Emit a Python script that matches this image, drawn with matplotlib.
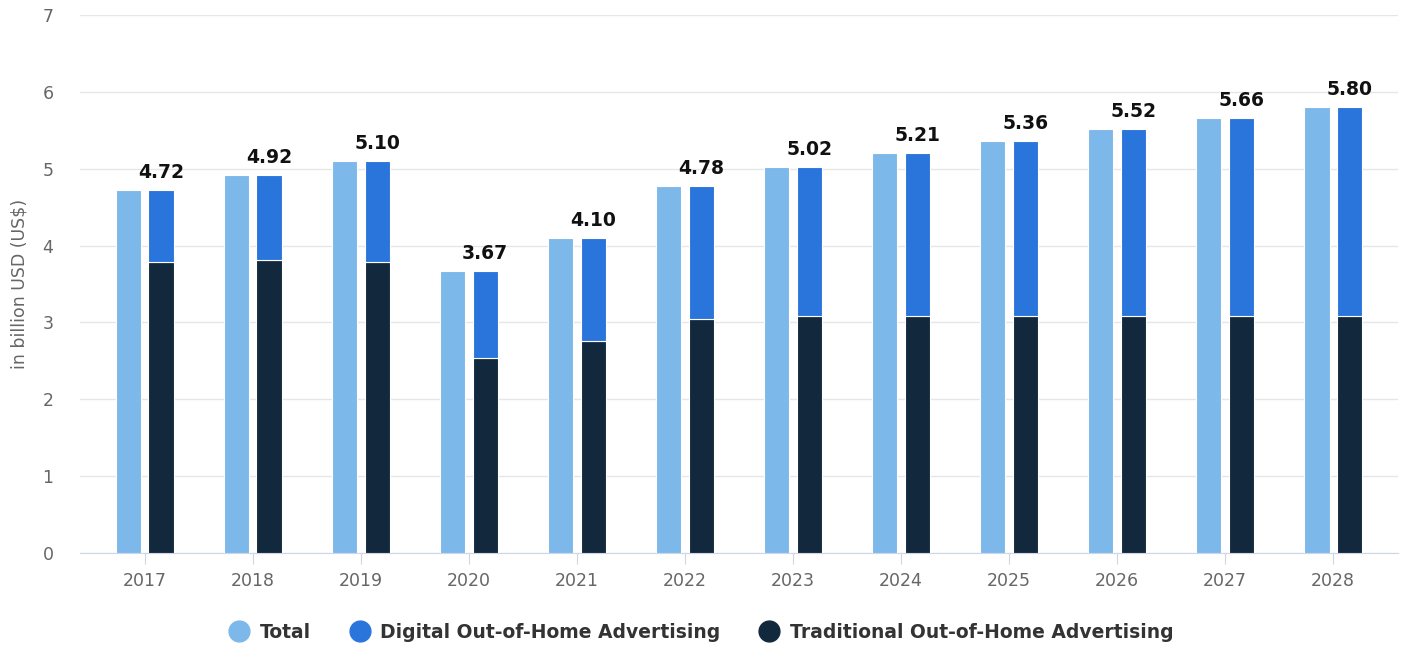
import matplotlib.pyplot as plt
from matplotlib.lines import Line2D
import numpy as np

years = ["2017", "2018", "2019", "2020", "2021", "2022", "2023", "2024", "2025", "2026", "2027", "2028"]
total = [4.72, 4.92, 5.10, 3.67, 4.10, 4.78, 5.02, 5.21, 5.36, 5.52, 5.66, 5.80]
traditional = [3.79, 3.81, 3.79, 2.54, 2.76, 3.04, 3.08, 3.08, 3.08, 3.08, 3.08, 3.08]
digital = [t - d for t, d in zip(total, traditional)]

C_TOTAL = "#7db8ea"
C_DIGITAL = "#2a75dc"
C_TRAD = "#12283c"

fig = plt.figure(figsize=(14.1, 6.49), dpi=100)
ax = fig.add_axes([0.0567, 0.148, 0.9348, 0.829])

x = np.arange(len(years))
w = 0.232
off = 0.15

ax.bar(x - off, total, w, color=C_TOTAL, edgecolor="white", linewidth=0.8, zorder=3)
ax.bar(x + off, traditional, w, color=C_TRAD, edgecolor="white", linewidth=0.8, zorder=3)
ax.bar(x + off, digital, w, bottom=traditional, color=C_DIGITAL, edgecolor="white", linewidth=0.8, zorder=3)

for xi, t in zip(x, total):
    ax.text(xi + off, t + 0.1, f"{t:.2f}", ha="center", va="bottom",
            fontsize=13.5, fontweight="bold", color="#111111")

ax.set_ylim(0, 7)
ax.set_xlim(-0.6, 11.6)
ax.set_yticks(range(8))
ax.set_xticks(x)
ax.set_xticklabels(years)
ax.grid(axis="y", color="#e6e6e6", linewidth=1, zorder=0)
for s in ["top", "right", "left"]:
    ax.spines[s].set_visible(False)
ax.spines["bottom"].set_color("#ccd6eb")
ax.tick_params(axis="x", length=8, color="#ccd6eb", labelsize=12.5, labelcolor="#666666", pad=6)
ax.tick_params(axis="y", length=0, labelsize=12.5, labelcolor="#666666", pad=19)
ax.set_ylabel("in billion USD (US$)", fontsize=12.5, color="#666666", labelpad=10)

handles = [Line2D([], [], marker="o", linestyle="none", markersize=15, color=c)
           for c in (C_TOTAL, C_DIGITAL, C_TRAD)]
leg = fig.legend(handles, ["Total", "Digital Out-of-Home Advertising", "Traditional Out-of-Home Advertising"],
                 loc="center", bbox_to_anchor=(0.497, 0.026), ncol=3, frameon=False,
                 handletextpad=0.5, columnspacing=2.0, handlelength=1.2,
                 prop={"size": 13.5, "weight": "bold"})
for t in leg.get_texts():
    t.set_color("#333333")

fig.savefig("out.png", dpi=100)
